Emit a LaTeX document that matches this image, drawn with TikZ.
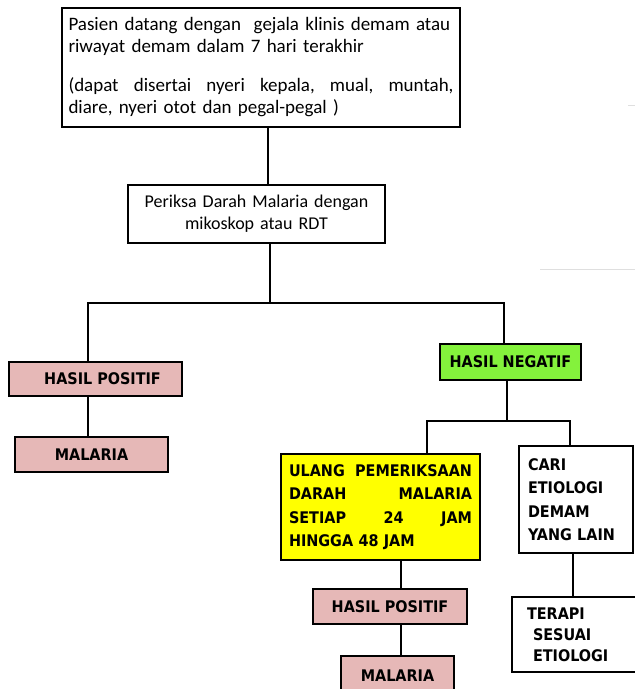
\documentclass[tikz,border=0pt]{standalone}
\usepackage{fontspec}
\setmainfont{Carlito}
\newfontfamily\capsfont{DejaVu Sans Condensed}
\usetikzlibrary{positioning}

\definecolor{posPink}{HTML}{E6B8B7}
\definecolor{negGreen}{HTML}{84F23C}
\definecolor{ulangYellow}{HTML}{FFFF00}

\begin{document}
\begin{tikzpicture}[
    x=1pt, y=-1pt,
    block/.style={rectangle, draw, line width=1.6pt, inner sep=0pt, align=center},
    text_block/.style={block, font=\fontsize{19}{22}\selectfont},
    caps_block/.style={block, font=\capsfont\bfseries\fontsize{16}{23.5}\selectfont},
    pos_block/.style={caps_block, fill=posPink},
    line/.style={line width=1.4pt},
    faint/.style={gray!25, line width=1pt}
]
\useasboundingbox (0,0) rectangle (635,689);
\clip (0,0) rectangle (635,689);

\node[text_block, minimum width=398, minimum height=119, text width=385, align=left] (gejala) at (261,67.5)
  {Pasien datang dengan\ \ gejala klinis demam atau\\
   riwayat demam dalam 7 hari terakhir\\[17pt]
   (dapat\hfill disertai\hfill nyeri\hfill kepala,\hfill mual,\hfill muntah,\\
   diare, nyeri otot dan pegal-pegal )};
\node[text_block, minimum width=257, minimum height=58, text width=245, font=\fontsize{18}{22}\selectfont] (periksa) at (256.5,214)
  {Periksa Darah Malaria dengan\\mikoskop atau RDT};

\node[pos_block, minimum width=173, minimum height=34] (pos1) at (95.5,379) {\hspace*{14pt}HASIL POSITIF};
\node[pos_block, minimum width=153, minimum height=35] (mal1) at (91.5,454.5) {MALARIA};

\node[caps_block, fill=negGreen, minimum width=141, minimum height=36] (neg) at (510.5,362) {HASIL NEGATIF};
\node[caps_block, fill=ulangYellow, minimum width=199, minimum height=106, text width=183, align=left] (ulang) at (380.5,507)
  {ULANG\hfill PEMERIKSAAN\\DARAH\hfill MALARIA\\SETIAP\hfill 24\hfill JAM\\HINGGA 48 JAM};
\node[caps_block, minimum width=114, minimum height=107, text width=96, align=left] (cari) at (576,499.5)
  {CARI\\ETIOLOGI\\DEMAM\\YANG LAIN};

\node[pos_block, minimum width=154, minimum height=35] (pos2) at (390,606.5) {HASIL POSITIF};
\node[pos_block, minimum width=113, minimum height=44] (mal2) at (397.5,678) {\raisebox{4pt}{MALARIA}};
\node[caps_block, minimum width=133, minimum height=75, text width=103, align=left, font=\capsfont\bfseries\fontsize{16}{21}\selectfont] (terapi) at (578.5,634.5)
  {TERAPI\\\hspace*{6pt}SESUAI\\\hspace*{6pt}ETIOLOGI};

% connectors
\draw[line] ([xshift=7]gejala.south) -- ([xshift=7]gejala.south |- periksa.north);
\draw[line] ([xshift=13.5]periksa.south) -- ++(0,59) coordinate (split);
\draw[line] (split) -| ([xshift=-7.5]pos1.north);
\draw[line] (split) -| ([xshift=-6.5]neg.north);
\draw[line] ([xshift=-7.5]pos1.south) -- ([xshift=-7.5]pos1.south |- mal1.north);

\draw[line] ([xshift=-3.5]neg.south) -- ++(0,40) coordinate (split2);
\draw[line] (split2) -| ([xshift=46.5]ulang.north);
\draw[line] (split2) -| ([xshift=-6]cari.north);
\draw[line] ([xshift=20.5]ulang.south) -- ([xshift=20.5]ulang.south |- pos2.north);
\draw[line] ([xshift=11]pos2.south) -- ([xshift=11]pos2.south |- mal2.north);
\draw[line] ([xshift=-3]cari.south) -- ([xshift=-3]cari.south |- terapi.north);

% faint marks at the right edge
\draw[faint] (628,105) -- (635,105);
\draw[faint] (540,269) -- (635,269);
\end{tikzpicture}
\end{document}
